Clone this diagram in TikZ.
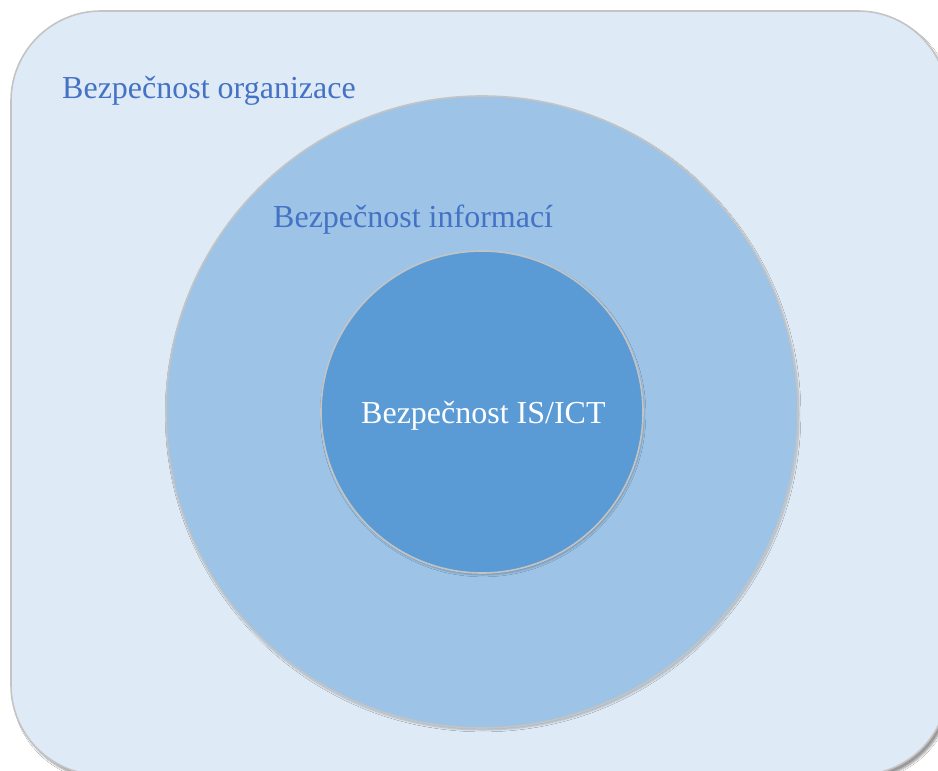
\documentclass[tikz,border=0pt]{standalone}
\usepackage{fontspec}
\setmainfont{Liberation Serif}
\usetikzlibrary{shadows.blur}
\definecolor{orgfill}{HTML}{DEEAF6}
\definecolor{infofill}{HTML}{9DC3E6}
\definecolor{ictfill}{HTML}{5B9BD5}
\definecolor{labelblue}{HTML}{4472C4}
\definecolor{rimgrey}{HTML}{C4C4C4}
\tikzset{
  zone/.style={draw=rimgrey, line width=1.6pt},
  zonelabel/.style={anchor=base west, inner sep=0pt, font=\fontsize{32}{36}\selectfont},
}
\begin{document}
\begin{tikzpicture}[x=1pt, y=-1pt]
  \useasboundingbox (0,0) rectangle (938,771);
  \clip (0,0) rectangle (938,771);
  \fill[white] (0,0) rectangle (938,771);
  % organisation: rounded panel running off the right and bottom edges
  \draw[zone, fill=orgfill, rounded corners=90pt,
        blur shadow={shadow xshift=3pt, shadow yshift=-4pt, shadow blur steps=6, shadow opacity=40}]
    (11,11) rectangle (948,775);
  % information security ring
  \node[zone, circle, fill=infofill, minimum size=632pt, inner sep=0pt,
        blur shadow={shadow xshift=1pt, shadow yshift=-2pt, shadow opacity=25}] (info) at (482,412) {};
  % IS/ICT core
  \node[zone, circle, fill=ictfill, minimum size=322pt, inner sep=0pt,
        blur shadow={shadow xshift=1pt, shadow yshift=-2pt, shadow opacity=25}] (ict) at (482,412) {};
  \node[zonelabel, text=labelblue] (orglabel) at (62,98) {Bezpečnost organizace};
  \node[zonelabel, text=labelblue] (infolabel) at (273,227) {Bezpečnost informací};
  \node[zonelabel, text=white] (ictlabel) at (361,423) {Bezpečnost IS/ICT};
\end{tikzpicture}
\end{document}
